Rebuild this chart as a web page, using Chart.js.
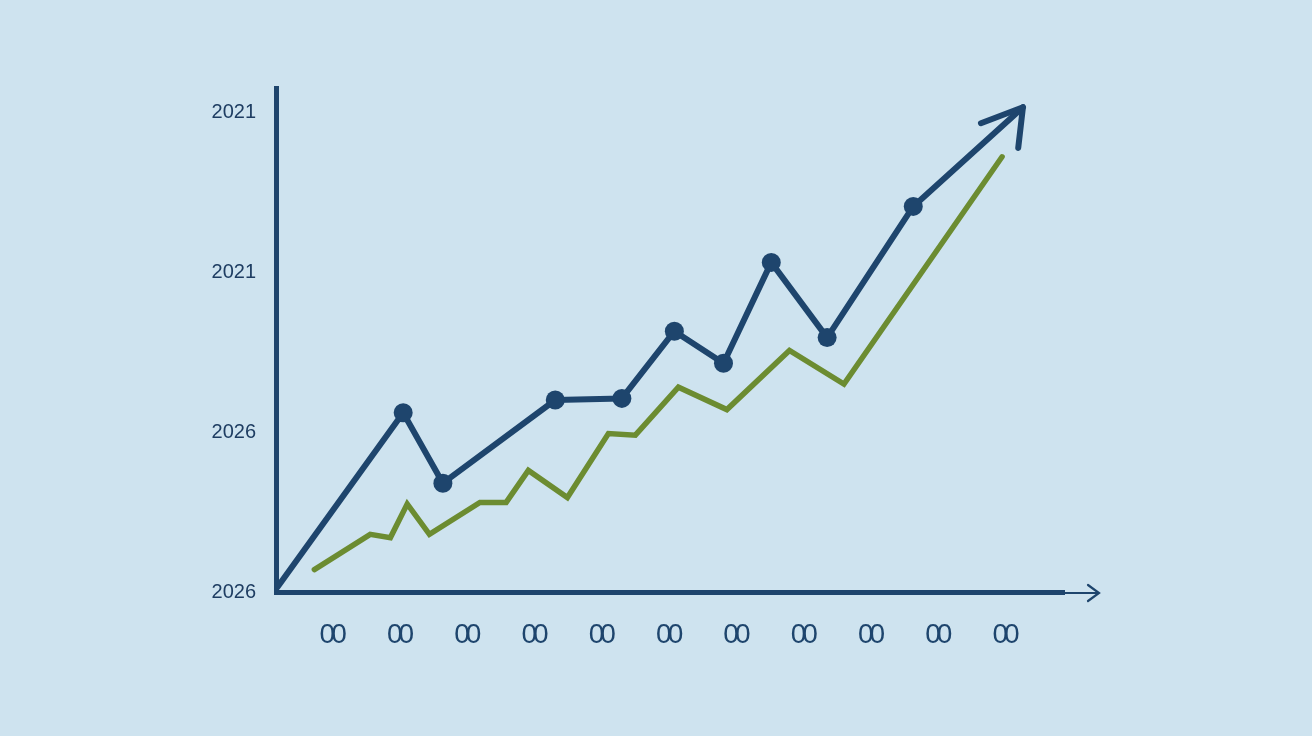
<!DOCTYPE html>
<html>
<head>
<meta charset="utf-8">
<script src="https://cdn.jsdelivr.net/npm/chart.js@4"></script>
<style>
  html, body { margin: 0; padding: 0; background: #cee3ef; }
  #wrap { width: 1312px; height: 736px; }
</style>
</head>
<body>
<div id="wrap"><canvas id="trendChart" width="1312" height="736"></canvas></div>
<script>
// Tick labels
const yTickValues = [0, 1, 2, 3];
const yTickLabels = ['2026', '2026', '2021', '2021'];
const xTickValues = [1, 2, 3, 4, 5, 6, 7, 8, 9, 10, 11];
const xTickLabel = '00';

// Blue series (markers on inner points, arrow at the end)
const blueX = [0.2, 2.07, 2.66, 4.33, 5.32, 6.10, 6.83, 7.54, 8.37, 9.65, 11.28];
const blueY = [0.03, 1.12, 0.68, 1.20, 1.21, 1.63, 1.43, 2.06, 1.59, 2.41, 3.03];

// Green series
const greenX = [0.75, 1.58, 1.88, 2.13, 2.46, 3.21, 3.60, 3.93, 4.51, 5.12, 5.52, 6.16, 6.88, 7.81, 8.62, 10.97];
const greenY = [0.14, 0.36, 0.34, 0.55, 0.36, 0.56, 0.56, 0.76, 0.59, 0.99, 0.98, 1.28, 1.14, 1.51, 1.30, 2.72];

const colors = {
    bg: '#cee3ef',
    navy: '#1e456d',
    text: '#1e3d62',
    green: '#6c8c31'
};

const toPoints = (xs, ys) => xs.map((x, i) => ({ x: x, y: ys[i] }));

// arrow head at the end of the blue line
const lineArrow = {
    id: 'lineArrow',
    afterDatasetsDraw(chart) {
        const pts = chart.getDatasetMeta(0).data;
        const a = pts[pts.length - 2], b = pts[pts.length - 1];
        const back = Math.atan2(a.y - b.y, a.x - b.x);
        const ctx = chart.ctx;
        ctx.save();
        ctx.strokeStyle = colors.navy;
        ctx.lineWidth = 6;
        ctx.lineCap = 'round';
        ctx.lineJoin = 'round';
        ctx.beginPath();
        ctx.moveTo(b.x + 45 * Math.cos(back + 0.37), b.y + 45 * Math.sin(back + 0.37));
        ctx.lineTo(b.x, b.y);
        ctx.lineTo(b.x + 41 * Math.cos(back - 0.72), b.y + 41 * Math.sin(back - 0.72));
        ctx.stroke();
        ctx.restore();
    }
};

// thin extension and arrow at the end of the x axis
const axisArrow = {
    id: 'axisArrow',
    afterDraw(chart) {
        const { right, bottom } = chart.chartArea;
        const ctx = chart.ctx;
        const tip = right + 35;
        ctx.save();
        ctx.strokeStyle = colors.navy;
        ctx.lineWidth = 2.2;
        ctx.lineCap = 'round';
        ctx.beginPath();
        ctx.moveTo(right, bottom + 1);
        ctx.lineTo(tip, bottom + 1);
        ctx.moveTo(tip - 11, bottom - 7);
        ctx.lineTo(tip, bottom + 1);
        ctx.lineTo(tip - 11, bottom + 9);
        ctx.stroke();
        ctx.restore();
    }
};

// x tick glyphs sit tight together; y labels are drawn later at normal spacing
const tickSpacing = {
    id: 'tickSpacing',
    beforeDraw(chart) { chart.ctx.letterSpacing = '-4px'; },
    beforeDatasetsDraw(chart) { chart.ctx.letterSpacing = '0px'; },
    afterDraw(chart) { chart.ctx.letterSpacing = '0px'; }
};

document.addEventListener('DOMContentLoaded', () => {
    const ctx = document.getElementById('trendChart').getContext('2d');

    new Chart(ctx, {
        type: 'line',
        data: {
            datasets: [
                {
                    data: toPoints(blueX, blueY),
                    borderColor: colors.navy,
                    backgroundColor: colors.navy,
                    borderWidth: 6,
                    borderCapStyle: 'round',
                    borderJoinStyle: 'round',
                    pointRadius: blueX.map((_, i) => (i === 0 || i === blueX.length - 1) ? 0 : 9.5),
                    pointBorderWidth: 0,
                    pointHoverRadius: 0,
                    tension: 0,
                    fill: false
                },
                {
                    data: toPoints(greenX, greenY),
                    borderColor: colors.green,
                    borderWidth: 5.5,
                    borderCapStyle: 'round',
                    borderJoinStyle: 'miter',
                    pointRadius: 0,
                    tension: 0,
                    fill: false
                }
            ]
        },
        options: {
            responsive: false,
            animation: false,
            events: [],
            layout: { padding: { top: 88, right: 248, bottom: 0, left: 0 } },
            plugins: {
                legend: { display: false },
                tooltip: { enabled: false }
            },
            scales: {
                x: {
                    type: 'linear',
                    min: 0.18,
                    max: 11.89,
                    afterBuildTicks: (scale) => { scale.ticks = xTickValues.map(v => ({ value: v })); },
                    afterFit: (scale) => { scale.height = 144; },
                    grid: { display: false, drawTicks: false },
                    border: { display: true, color: colors.navy, width: 5 },
                    ticks: {
                        padding: 26,
                        color: colors.navy,
                        font: { family: "'Liberation Sans', Arial, sans-serif", size: 28 },
                        maxRotation: 0,
                        autoSkip: false,
                        callback: () => xTickLabel
                    }
                },
                y: {
                    type: 'linear',
                    min: 0,
                    max: 3.15,
                    afterBuildTicks: (scale) => { scale.ticks = yTickValues.map(v => ({ value: v })); },
                    afterFit: (scale) => { scale.width = 276; },
                    grid: { display: false, drawTicks: false },
                    border: { display: true, color: colors.navy, width: 5 },
                    ticks: {
                        z: 1,
                        padding: 20,
                        color: colors.text,
                        font: { family: "'Liberation Sans', Arial, sans-serif", size: 20 },
                        autoSkip: false,
                        callback: (v, i) => yTickLabels[i]
                    }
                }
            }
        },
        plugins: [tickSpacing, lineArrow, axisArrow]
    });
});
</script>
</body>
</html>
